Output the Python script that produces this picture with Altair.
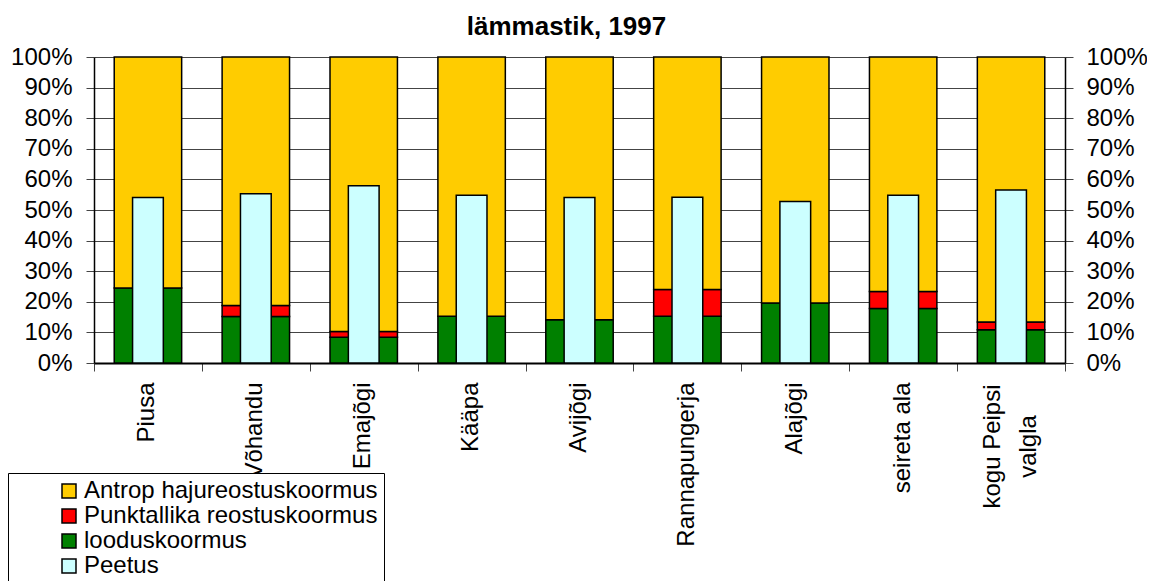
import altair as alt
import pandas as pd

# ---- data ----
categories = ["Piusa", "Võhandu", "Emajõgi", "Kääpa", "Avijõgi",
              "Rannapungerja", "Alajõgi", "seireta ala", "kogu Peipsi\nvalgla"]
looduskoormus = [24.5, 15.2, 8.4, 15.3, 14.1, 15.3, 19.6, 17.8, 10.9]
punktallika = [0.0, 3.6, 1.9, 0.0, 0.0, 8.7, 0.0, 5.6, 2.5]
antrop = [75.5, 81.2, 89.7, 84.7, 85.9, 76.0, 80.4, 76.6, 86.6]
peetus = [54.1, 55.3, 57.9, 54.8, 54.1, 54.2, 52.8, 54.8, 56.5]

series = ["Antrop hajureostuskoormus", "Punktallika reostuskoormus",
          "looduskoormus", "Peetus"]
colors = ["#FFCC00", "#FF0000", "#008000", "#CCFFFF"]
y_ticks = [0, 10, 20, 30, 40, 50, 60, 70, 80, 90, 100]

FONT = "Liberation Sans"

rows = []
for i, c in enumerate(categories):
    for name, vals, o in [(series[2], looduskoormus, 0),
                          (series[1], punktallika, 1),
                          (series[0], antrop, 2)]:
        if vals[i] > 0:
            rows.append({"kat": c, "seeria": name, "vaartus": vals[i], "jrk": o})
stack_df = pd.DataFrame(rows)
peetus_df = pd.DataFrame({"kat": categories, "seeria": series[3], "vaartus": peetus})

multi = "indexof(datum.label, '\\n') >= 0"

x_enc = alt.X(
    "kat:N", sort=categories,
    scale=alt.Scale(paddingInner=0, paddingOuter=0),
    axis=alt.Axis(title=None, labelAngle=270,
                  labelAlign={"condition": {"test": multi, "value": "center"}, "value": "right"},
                  labelPadding={"condition": {"test": multi, "value": 75}, "value": 11},
                  labelOffset={"condition": {"test": multi, "value": -19}, "value": -1},
                  labelBaseline="middle",
                  tickBand="extent", tickSize=8, tickColor="#444",
                  labelFont=FONT, labelFontSize=24, labelColor="black",
                  labelExpr="split(datum.label, '\\n')", labelLineHeight=36,
                  domainColor="black", domainWidth=2, labelLimit=400),
)

color_enc = alt.Color(
    "seeria:N",
    scale=alt.Scale(domain=series, range=colors),
    legend=alt.Legend(title=None, orient="none", legendX=-86, legendY=416,
                      direction="vertical", symbolType="square", symbolSize=196,
                      symbolStrokeColor="black", symbolStrokeWidth=1.5,
                      labelFont=FONT, labelFontSize=24, labelColor="black",
                      fillColor="white", strokeColor="black", padding=6,
                      symbolOffset=43, labelOffset=3, rowPadding=1, labelLimit=600),
)

stack = alt.Chart(stack_df).mark_bar(
    width=alt.RelativeBandSize(0.625), stroke="black", strokeWidth=1.5
).encode(
    x=x_enc,
    y=alt.Y("vaartus:Q", stack="zero", scale=alt.Scale(domain=[0, 100], nice=False),
            axis=alt.Axis(title=None, values=y_ticks, labelExpr="datum.value + '%'",
                          grid=True, gridColor="#444", gridWidth=1,
                          tickSize=8, tickColor="#444", labelPadding=14,
                          labelFont=FONT, labelFontSize=24, labelColor="black",
                          domainColor="black", domainWidth=1.5)),
    color=color_enc,
    order=alt.Order("jrk:Q", sort="ascending"),
)

peet = alt.Chart(peetus_df).mark_bar(
    width=alt.RelativeBandSize(0.285), stroke="black", strokeWidth=1.5
).encode(
    x=x_enc,
    y=alt.Y("vaartus:Q", scale=alt.Scale(domain=[0, 100], nice=False),
            axis=alt.Axis(title=None, orient="right", values=y_ticks,
                          labelExpr="datum.value + '%'", grid=False,
                          tickSize=8, tickColor="#444", labelPadding=13,
                          labelFont=FONT, labelFontSize=24, labelColor="black",
                          domainColor="black", domainWidth=1.5)),
    color=color_enc,
)

chart = alt.layer(stack, peet).resolve_scale(y="independent").properties(
    width=971, height=306,
    title=alt.Title("lämmastik, 1997", font=FONT, fontSize=26, fontWeight="bold",
                    color="black", anchor="middle", offset=5, dx=-13),
    autosize=alt.AutoSizeParams(type="none"),
    padding={"left": 86, "top": 49, "right": 82, "bottom": 240},
).configure_view(stroke=None)

chart.save("out.html", embed_options={"renderer": "svg", "actions": False})
